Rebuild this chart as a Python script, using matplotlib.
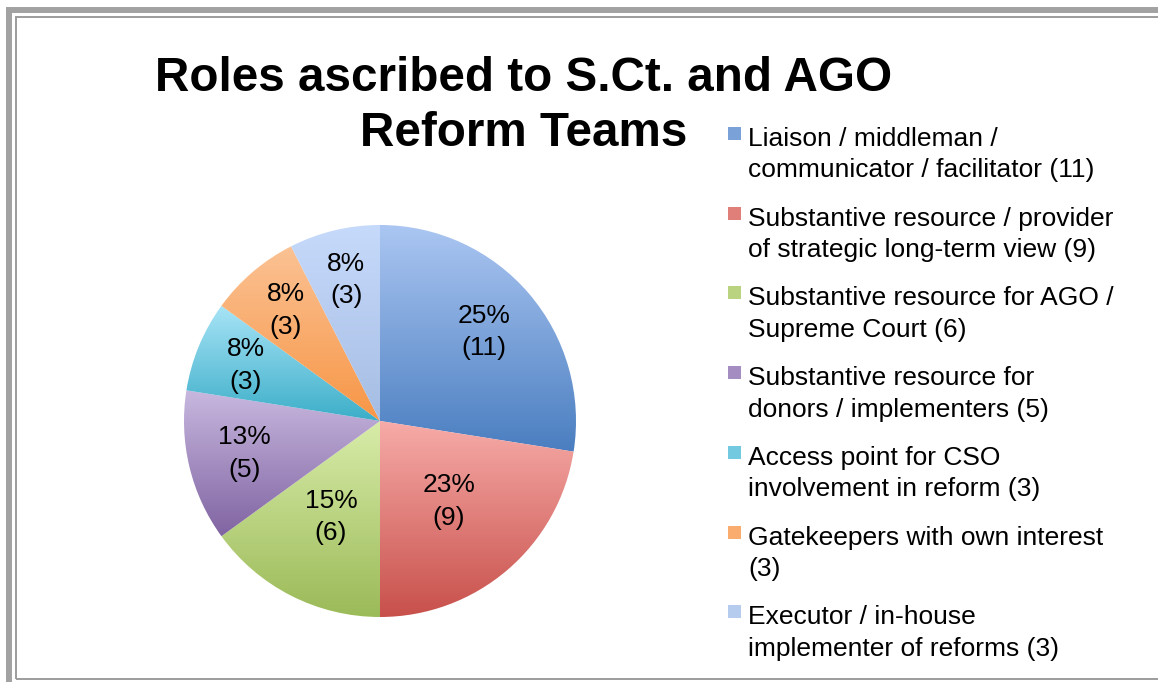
import numpy as np
import matplotlib
matplotlib.use('Agg')
import matplotlib.pyplot as plt
from matplotlib.patches import Rectangle
from matplotlib.colors import LinearSegmentedColormap, to_rgb

# Roles ascribed to S.Ct. and AGO reform teams (pie, clockwise from 12 o'clock)
title = 'Roles ascribed to S.Ct. and AGO\nReform Teams'
roles = ['Liaison / middleman /\ncommunicator / facilitator (11)',
         'Substantive resource / provider\nof strategic long-term view (9)',
         'Substantive resource for AGO /\nSupreme Court (6)',
         'Substantive resource for\ndonors / implementers (5)',
         'Access point for CSO\ninvolvement in reform (3)',
         'Gatekeepers with own interest\n(3)',
         'Executor / in-house\nimplementer of reforms (3)']
counts = [11, 9, 6, 5, 3, 3, 3]
pct_labels = ['25%', '23%', '15%', '13%', '8%', '8%', '8%']

# gradient colours per slice (top -> bottom)
top_colors = ['#abc6f2', '#f7aba8', '#d8eca9', '#c8b8df', '#a8e4f7', '#fbc294', '#c6dafb']
bottom_colors = ['#4a7ec0', '#c8504b', '#9bba58', '#8064a2', '#3caec8', '#f79646', '#a6bde3']
label_radius = [0.70, 0.54, 0.55, 0.71, 0.74, 0.74, 0.74]

W, H = 1158, 682
plt.rcParams['font.family'] = ['Liberation Sans', 'DejaVu Sans']
fig = plt.figure(figsize=(W / 100, H / 100), dpi=100)
fig.patch.set_facecolor('white')

def fx(x):
    return x / W

def fy(y):
    return 1 - y / H

# frame
fig.add_artist(Rectangle((fx(9), -0.1), 2, fy(10) + 0.1, transform=fig.transFigure,
                         fill=False, lw=4.3, ec='#a2a2a2'))
fig.add_artist(Rectangle((fx(15.5), fy(679)), 2, (679 - 17) / H, transform=fig.transFigure,
                         fill=False, lw=1.4, ec='#9c9c9c'))

# title
for j, line in enumerate(title.split('\n')):
    fig.text(fx(524), fy(91 + 55 * j), line, ha='center', va='baseline',
             fontsize=34.3, fontweight='bold')

# pie
ax = fig.add_axes([fx(184), 65 / H, 392 / W, 392 / H])
wedges, _ = ax.pie(counts, startangle=90, counterclock=False, radius=1)
grad = np.linspace(0, 1, 256).reshape(-1, 1)
for w, c1, c2 in zip(wedges, top_colors, bottom_colors):
    w.set_facecolor('none')
    w.set_edgecolor('none')
    bb = w.get_path().get_extents()
    cmap = LinearSegmentedColormap.from_list('g', [c1, c2])
    im = ax.imshow(grad, cmap=cmap, extent=[bb.x0, bb.x1, bb.y0, bb.y1],
                   origin='upper', aspect='auto', zorder=1, interpolation='bilinear')
    im.set_clip_path(w)

for w, p, n, r in zip(wedges, pct_labels, counts, label_radius):
    th = np.deg2rad((w.theta1 + w.theta2) / 2)
    ax.text(r * np.cos(th), r * np.sin(th), '%s\n(%d)' % (p, n), ha='center', va='center',
            fontsize=19, linespacing=1.45, zorder=3)

ax.set_xlim(-1, 1)
ax.set_ylim(-1, 1)
ax.set_aspect('auto')
ax.axis('off')

# legend
for i, (lab, c1, c2) in enumerate(zip(roles, top_colors, bottom_colors)):
    base = 146 + 79.7 * i
    mid = tuple((np.array(to_rgb(c1)) + np.array(to_rgb(c2))) / 2)
    fig.add_artist(Rectangle((fx(728), fy(base - 6)), 13 / W, 13 / H,
                             transform=fig.transFigure, fc=mid, ec='none'))
    for j, line in enumerate(lab.split('\n')):
        fig.text(fx(748), fy(base + 31.5 * j), line, ha='left', va='baseline', fontsize=19)

fig.savefig('out.png', dpi=100)
